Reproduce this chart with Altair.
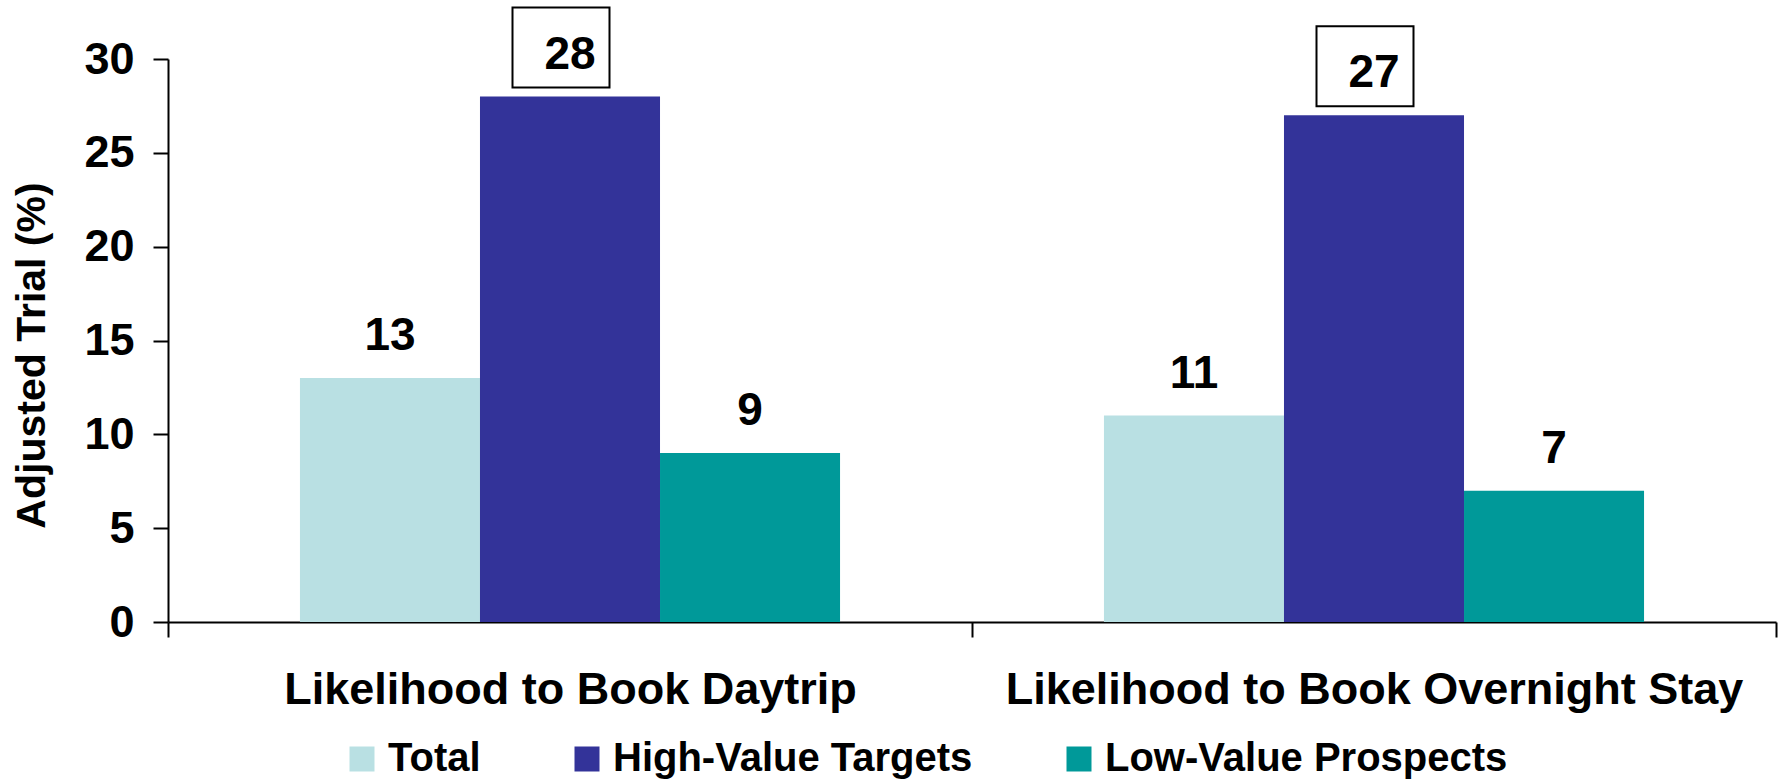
import altair as alt
import pandas as pd

# Chart values
categories = ["Likelihood to Book Daytrip", "Likelihood to Book Overnight Stay"]
series = ["Total", "High-Value Targets", "Low-Value Prospects"]
total = [13, 11]
high_value = [28, 27]
low_value = [9, 7]
colors = ["#B9E0E3", "#333399", "#009999"]
y_ticks = [0, 5, 10, 15, 20, 25, 30]
boxed_series = "High-Value Targets"

rows = []
for i, cat in enumerate(categories):
    for name, vals in zip(series, [total, high_value, low_value]):
        rows.append({"category": cat, "series": name, "value": vals[i]})
df = pd.DataFrame(rows)

FONT = "Liberation Sans"

# Full-width category bands so the category ticks fall on the band edges;
# the bar group is narrowed through the outer padding of the offset scale.
x_enc = alt.X(
    "category:N",
    sort=categories,
    title=None,
    scale=alt.Scale(paddingInner=0, paddingOuter=0),
    axis=alt.Axis(
        labelAngle=0,
        labelFont=FONT,
        labelFontSize=45,
        labelFontWeight="bold",
        labelColor="black",
        labelPadding=30,
        labelLimit=0,
        tickBand="extent",
        tickSize=15,
        tickWidth=2,
        tickColor="black",
        domainColor="black",
        domainWidth=2,
    ),
)
xo_enc = alt.XOffset("series:N", sort=series,
                     scale=alt.Scale(paddingInner=0, paddingOuter=0.733))
y_enc = alt.Y(
    "value:Q",
    scale=alt.Scale(domain=[0, 30]),
    title="Adjusted Trial (%)",
    axis=alt.Axis(
        values=y_ticks,
        grid=False,
        labelFont=FONT,
        labelFontSize=45,
        labelFontWeight="bold",
        labelColor="black",
        labelPadding=19,
        tickSize=15,
        tickWidth=2,
        tickColor="black",
        domainColor="black",
        domainWidth=2,
        titleFont=FONT,
        titleFontSize=41,
        titleFontWeight="bold",
        titleColor="black",
        titleAngle=-90,
        titleAlign="center",
        titleBaseline="middle",
        titleX=-136,
        titleY=296,
    ),
)
color_enc = alt.Color(
    "series:N",
    sort=series,
    scale=alt.Scale(domain=series, range=colors),
    legend=alt.Legend(
        title=None,
        orient="none",
        direction="horizontal",
        legendX=174,
        legendY=680,
        padding=0,
        symbolType="square",
        symbolSize=625,
        symbolStrokeWidth=0,
        symbolOpacity=1,
        labelFont=FONT,
        labelFontSize=40,
        labelFontWeight="bold",
        labelColor="black",
        labelOffset=6,
        labelLimit=0,
        columnPadding=86,
    ),
)

bars = alt.Chart().mark_bar(stroke=None).encode(
    x=x_enc, xOffset=xo_enc, y=y_enc, color=color_enc
)

# outlined call-out box around the High-Value Targets labels
box_path = "M-1.4375,-2.225L0.9875,-2.225L0.9875,-0.225L-1.4375,-0.225Z"
boxes = alt.Chart().mark_point(
    shape=box_path, size=6400, filled=False, color="black",
    strokeWidth=2, opacity=1
).encode(
    x=x_enc, xOffset=xo_enc, y=y_enc
).transform_filter(alt.datum.series == boxed_series)

labels = alt.Chart().mark_text(
    dy=-42, font=FONT, fontSize=46, fontWeight="bold",
    color="black", baseline="middle", align="center"
).encode(
    x=x_enc, xOffset=xo_enc, y=y_enc, text=alt.Text("value:Q")
)

chart = alt.layer(bars, boxes, labels, data=df).properties(
    width=1608,
    height=563,
    padding={"left": 168, "top": 59, "right": 4, "bottom": 157},
    autosize=alt.AutoSizeParams(type="none"),
    background="white",
).configure_view(stroke=None)

chart.save("out.html", embed_options={"renderer": "svg", "actions": False})
